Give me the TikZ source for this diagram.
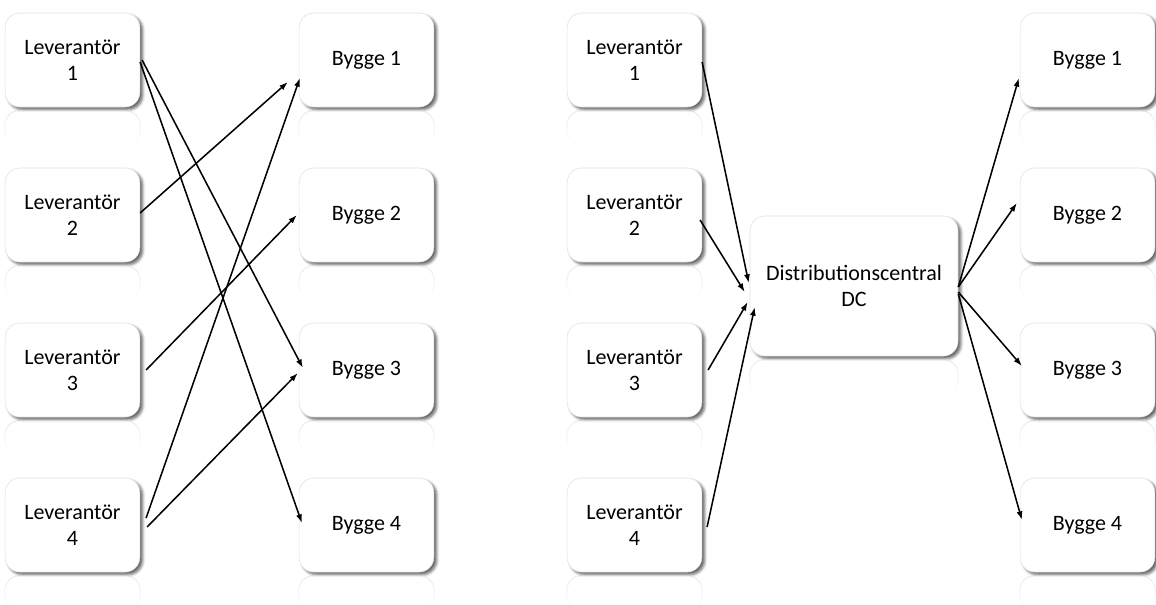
\documentclass[tikz,border=0pt]{standalone}
\usepackage{fontspec}
\setmainfont{Carlito}
\usetikzlibrary{calc,arrows.meta,shadows.blur,fadings}
\tikzfading[name=spegelfade, top color=transparent!60, bottom color=transparent!100]

\begin{document}
\begin{tikzpicture}[x=0.75pt, y=-0.75pt,
  kort/.style={draw=black!12, fill=white, rounded corners=11pt,
    minimum width=101pt, minimum height=70.5pt, align=center,
    font=\fontsize{16.5}{19.5}\selectfont,
    blur shadow={shadow xshift=2.2pt, shadow yshift=-2pt, shadow blur radius=2pt, shadow opacity=60}},
  spegel/.style={draw=black!20, fill=white, line width=0.8pt, rounded corners=11pt, path fading=spegelfade},
  pil/.style={-{Latex[length=6.5pt,width=4.5pt]}, line width=1.15pt}]
  \useasboundingbox (0,0) rectangle (1156,604);

  % Left: direct deliveries
  \foreach \i/\y in {1/60,2/215,3/370,4/525} {
    \node[kort] (L\i) at (72.5,\y) {Leverantör\\\i};
    \node[kort] (B\i) at (366.5,\y) {Bygge \i};
  }

  % Right: via distribution centre
  \foreach \i/\y in {1/60,2/215,3/370,4/525} {
    \node[kort] (RL\i) at (634.5,\y) {Leverantör\\\i};
    \node[kort] (RB\i) at (1087.5,\y) {Bygge \i};
  }
  \node[kort, minimum width=156pt, minimum height=105pt] (DC) at (854,286) {Distributionscentral\\DC};

  % Reflections
  \foreach \n in {L1,L2,L3,L4,B1,B2,B3,B4,RL1,RL2,RL3,RL4,RB1,RB2,RB3,RB4,DC}
    \draw[spegel] ([yshift=-2.5pt]\n.south west) rectangle ([yshift=-28pt]\n.south east);

  % Connections, left
  \draw[pil] ($(L1.east)+(2,0)$) -- ($(B3.west)+(4,-2)$);
  \draw[pil] ($(L1.east)+(0,2)$) -- ($(B4.west)+(3,-2)$);
  \draw[pil] ($(L2.east)+(0,-2)$) -- ($(B1.west)+(-11,22)$);
  \draw[pil] ($(L3.east)+(6,0)$) -- ($(B2.west)+(-2,0)$);
  \draw[pil] ($(L4.east)+(6,-7)$) -- ($(B1.west)+(1,18)$);
  \draw[pil] ($(L4.east)+(7,2)$) -- ($(B3.west)+(-1,3)$);

  % Connections, right
  \draw[pil] ($(RL1.east)+(0,2)$) -- ($(DC.west)+(-1,-3)$);
  \draw[pil] ($(RL2.east)+(-2,5)$) -- ($(DC.west)+(-5,6)$);
  \draw[pil] ($(RL3.east)+(6,0)$) -- ($(DC.west)+(-2,16)$);
  \draw[pil] ($(RL4.east)+(5,2)$) -- ($(DC.west)+(5,21)$);
  \draw[pil] ($(DC.east)+(0,1)$) -- ($(RB1.west)+(-1,18)$);
  \draw[pil] ($(DC.east)+(0,1)$) -- ($(RB2.west)+(-3,-12)$);
  \draw[pil] ($(DC.east)+(0,6)$) -- ($(RB3.west)+(2,-4)$);
  \draw[pil] ($(DC.east)+(0,8)$) -- ($(RB4.west)+(2,-5)$);
\end{tikzpicture}
\end{document}
